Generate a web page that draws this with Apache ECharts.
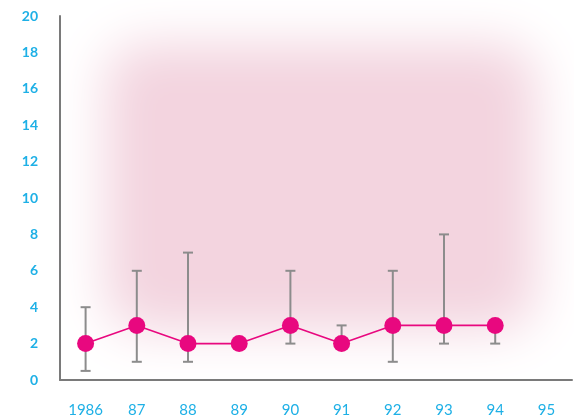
<!DOCTYPE html>
<html>
<head>
<meta charset="utf-8">
<script src="https://cdn.jsdelivr.net/npm/echarts@6/dist/echarts.min.js"></script>
<style>
  html, body { margin: 0; padding: 0; background: #ffffff; }
  #chart { width: 574px; height: 420px; }
</style>
</head>
<body>
<div id="chart"></div>
<script>
// Yearly values with their low/high range
const years = ['1986', '87', '88', '89', '90', '91', '92', '93', '94', '95'];
const values = [2, 3, 2, 2, 3, 2, 3, 3, 3, null];
const lows = [0.5, 1, 1, null, 2, 2, 1, 2, 2, null];
const highs = [4, 6, 7, null, 6, 3, 6, 8, 3, null];

const rangeData = [];
years.forEach(function (y, i) {
  if (lows[i] != null && highs[i] != null) rangeData.push([i, lows[i], highs[i]]);
});

const chart = echarts.init(document.getElementById('chart'), null, { renderer: 'canvas' });

const barColor = '#8c8c8c';
const capHalf = 5;
const glow = '#f3d4df';

chart.setOption({
  animation: false,
  backgroundColor: '#ffffff',
  grid: { left: 60, right: 2, top: 16, bottom: 40, containLabel: false },
  // soft pink glow behind the plot (only the blurred shadow is on screen)
  graphic: [{
    type: 'rect',
    z: -10,
    silent: true,
    shape: { x: 106 - 3000, y: 44, width: 430, height: 286, r: 36 },
    style: {
      fill: glow,
      shadowColor: glow,
      shadowBlur: 52,
      shadowOffsetX: 3000
    }
  }],
  xAxis: {
    type: 'category',
    data: years,
    boundaryGap: true,
    axisLine: { show: true, lineStyle: { color: '#7a7a7a', width: 2 } },
    axisTick: { show: false },
    splitLine: { show: false },
    axisLabel: {
      color: '#1eb0e6',
      fontFamily: 'Lato',
      fontSize: 15,
      margin: 23
    }
  },
  yAxis: {
    type: 'value',
    min: 0,
    max: 20,
    interval: 2,
    axisLine: { show: true, lineStyle: { color: '#7a7a7a', width: 2 } },
    axisTick: { show: false },
    splitLine: { show: false },
    axisLabel: {
      color: '#1eb0e6',
      fontFamily: 'Lato',
      fontWeight: 'bold',
      fontSize: 14,
      margin: 22
    }
  },
  series: [
    {
      type: 'custom',
      name: 'range',
      z: 2,
      data: rangeData,
      renderItem: function (params, api) {
        const x = api.value(0);
        const lo = api.coord([x, api.value(1)]);
        const hi = api.coord([x, api.value(2)]);
        const style = { stroke: barColor, lineWidth: 2 };
        return {
          type: 'group',
          children: [
            { type: 'line', shape: { x1: lo[0], y1: lo[1], x2: hi[0], y2: hi[1] }, style: style },
            { type: 'line', shape: { x1: hi[0] - capHalf, y1: hi[1], x2: hi[0] + capHalf, y2: hi[1] }, style: style },
            { type: 'line', shape: { x1: lo[0] - capHalf, y1: lo[1], x2: lo[0] + capHalf, y2: lo[1] }, style: style }
          ]
        };
      }
    },
    {
      type: 'line',
      name: 'value',
      z: 3,
      data: values,
      symbol: 'circle',
      symbolSize: 17,
      itemStyle: { color: '#e8087f' },
      lineStyle: { color: '#e8087f', width: 1.6 },
      connectNulls: false
    }
  ]
});
</script>
</body>
</html>
